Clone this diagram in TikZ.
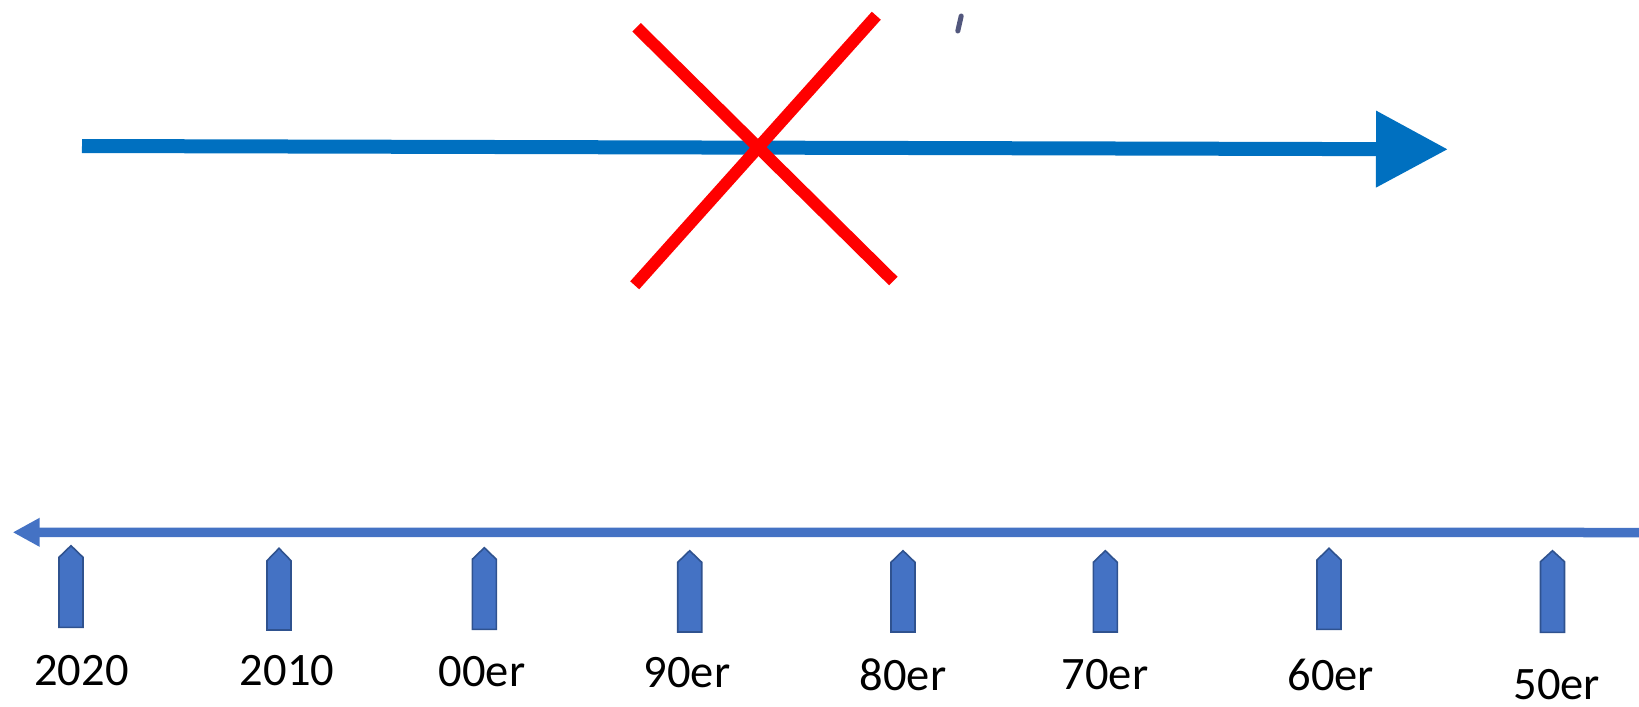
\documentclass[tikz,border=0pt]{standalone}
\usepackage{fontspec}
\setmainfont{Carlito}
\usetikzlibrary{arrows.meta}
\definecolor{topblue}{HTML}{0070C0}
\definecolor{axisblue}{HTML}{4472C4}
\definecolor{edgeblue}{HTML}{2F528F}
\definecolor{xred}{HTML}{FF0000}
\definecolor{inkmark}{HTML}{343A66}
\tikzset{
  yearlabel/.style={anchor=base, inner sep=0pt, font=\fontsize{46.5}{56}\selectfont, text=black},
  tickmark/.style={fill=axisblue, draw=edgeblue, line width=1.6pt, line join=miter},
  crossline/.style={draw=xred, line width=12pt, line cap=butt},
}
\begin{document}
\begin{tikzpicture}[x=1pt,y=-1pt]
\useasboundingbox (0,0) rectangle (1639,707);
% top arrow
\coordinate (ta) at (82,146);
\coordinate (tb) at (1448,149.3);
\draw[topblue, line width=14pt, -{Triangle[length=72pt 0 0, width=73pt 0 0]}] (ta) -- (tb);
% red cross
\coordinate (c1a) at (636.6,27.3);
\coordinate (c1b) at (893.3,281);
\coordinate (c2a) at (634.7,285.3);
\coordinate (c2b) at (876.3,15.7);
\draw[crossline] (c1a) -- (c1b);
\draw[crossline] (c2a) -- (c2b);
% stray mark
\coordinate (ma) at (957.8,31);
\coordinate (mb) at (961.2,16);
\draw[inkmark, line width=5pt, line cap=round, opacity=0.85] (ma) -- (mb);
% bottom axis
\coordinate (ba) at (1639,532.5);
\coordinate (bb) at (12.7,532.3);
\draw[axisblue, line width=9.5pt, -{Triangle[length=27pt 0 0, width=27pt 0 0]}] (ba) -- (bb);
% tick markers
\foreach \cx/\tp/\sh/\bt in {71/545.7/557.3/627.3, 279/548.3/560.7/630, 484.3/547.7/559.3/629.3, 689.7/550.7/562.3/632, 903/550.7/562.3/632, 1105.3/550.7/562.3/632, 1329/548.3/560/629.3, 1552.5/550.7/561.7/632.3}{
  \draw[tickmark] (\cx-12,\bt) -- (\cx-12,\sh) -- (\cx,\tp) -- (\cx+12,\sh) -- (\cx+12,\bt) -- cycle;
}
% labels
\node[yearlabel] (l2020) at (81.5,685) {2020};
\node[yearlabel] (l2010) at (287,685) {2010};
\node[yearlabel] (l00) at (482,686) {00er};
\node[yearlabel] (l90) at (687,687) {90er};
\node[yearlabel] (l80) at (903,690.7) {80er};
\node[yearlabel] (l70) at (1105,689.3) {70er};
\node[yearlabel] (l60) at (1330.7,690.7) {60er};
\node[yearlabel] (l50) at (1556.7,699) {50er};
\end{tikzpicture}
\end{document}
